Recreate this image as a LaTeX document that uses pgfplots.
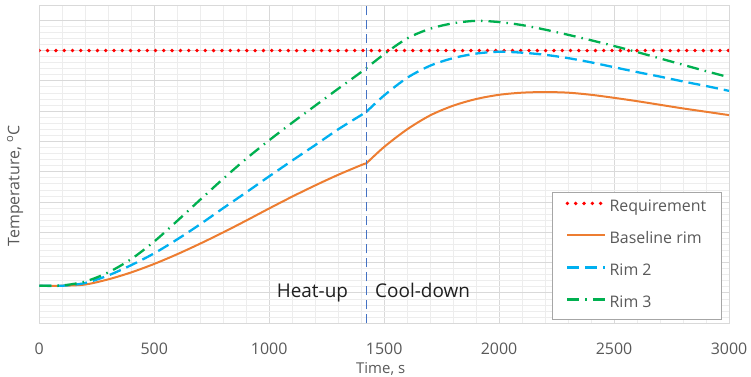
\documentclass[border=0pt]{standalone}
\usepackage{pgfplots}
\pgfplotsset{compat=1.18}
\usepackage{pgfplotstable}
\usepackage{fontspec}
\setmainfont{Open Sans}
\definecolor{gridmaj}{HTML}{D9D9D9}
\definecolor{gridmin}{HTML}{EDEDED}
\definecolor{txtgray}{HTML}{595959}
\definecolor{legbord}{HTML}{A6A6A6}
\definecolor{xlorange}{HTML}{ED7D31}
\definecolor{xlblue}{HTML}{00B0F0}
\definecolor{xlgreen}{HTML}{00B050}
\definecolor{xlline}{HTML}{4472C4}

\pgfplotstableread{
x y
0 1.24
100 1.24
200 1.28
300 1.45
400 1.68
500 1.96
600 2.28
700 2.63
800 3.00
900 3.39
1000 3.79
1100 4.18
1200 4.55
1300 4.90
1400 5.22
1423 5.28
1500 5.82
1600 6.40
1700 6.86
1800 7.18
1900 7.40
2000 7.54
2100 7.61
2200 7.63
2300 7.61
2400 7.54
2500 7.44
2600 7.33
2700 7.21
2800 7.09
2900 6.98
3000 6.87
}\tblbase

\pgfplotstableread{
x y
0 1.24
100 1.24
200 1.33
300 1.58
400 1.92
500 2.31
600 2.77
700 3.27
800 3.80
900 4.32
1000 4.85
1100 5.37
1200 5.88
1300 6.40
1400 6.87
1423 6.98
1500 7.52
1600 8.10
1700 8.50
1800 8.75
1900 8.90
2000 8.96
2100 8.93
2200 8.86
2300 8.75
2400 8.61
2500 8.45
2600 8.29
2700 8.14
2800 7.98
2900 7.83
3000 7.67
}\tblrimtwo

\pgfplotstableread{
x y
0 1.24
100 1.25
200 1.38
300 1.68
400 2.12
500 2.70
600 3.38
700 4.08
800 4.77
900 5.43
1000 6.04
1100 6.62
1200 7.18
1300 7.74
1400 8.29
1500 8.88
1600 9.40
1700 9.72
1800 9.90
1900 9.98
2000 9.94
2100 9.84
2200 9.69
2300 9.52
2400 9.34
2500 9.15
2600 8.95
2700 8.74
2800 8.53
2900 8.32
3000 8.12
}\tblrimthree

\begin{document}
\begin{tikzpicture}
\useasboundingbox (-39.3bp,-53.7bp) rectangle (711.7bp,323.3bp);
\begin{axis}[
  at={(0,0)}, anchor=south west,
  scale only axis, width=689.7bp, height=317.3bp,
  xmin=0, xmax=3000, ymin=0, ymax=10.47,
  xtick={0,500,...,3000}, minor x tick num=4,
  ytick={0,1,...,10}, minor y tick num=4, yticklabels={},
  grid=both,
  major grid style={gridmaj, line width=1bp},
  minor grid style={gridmin, line width=0.9bp},
  axis line style={gridmaj, line width=1bp},
  major tick length=0pt, minor tick length=0pt,
  tick label style={font=\fontsize{16}{16}\selectfont, text=txtgray},
  /pgf/number format/assume math mode=true,
  /pgf/number format/1000 sep={},
  xticklabel style={anchor=center, yshift=-25.7bp, text height=11.4bp, text depth=0bp},
  xlabel={Time, s},
  xlabel style={at={(axis description cs:0.495,0)}, anchor=center, yshift=-45.7bp, font=\fontsize{15}{15}\selectfont, text=txtgray},
  ylabel={Temperature, $^{\mathrm{o}}$C},
  ylabel style={at={(axis description cs:-0.0352,0.433)}, anchor=center, font=\fontsize{16}{16}\selectfont, text=txtgray},
  legend style={at={(rel axis cs:0.9899,0.4138)}, anchor=north east, draw=legbord, fill=white, line width=0.8bp,
    font=\fontsize{16}{16}\selectfont, text=txtgray, inner xsep=13bp, inner ysep=7.5bp, row sep=16bp,
    nodes={inner xsep=2.3bp, inner ysep=0bp, text height=12bp, text depth=4bp}},
  legend cell align=left,
  legend image code/.code={\draw[#1] (0bp,4.5bp) -- (38bp,4.5bp);},
]
\addplot[red, line width=3.8bp, line cap=round, dash pattern=on 0bp off 8.3bp] coordinates {(0,9) (3000,9)};
\addlegendentry{Requirement}
\addplot[xlorange, line width=2bp, smooth, tension=0.5, restrict x to domain=0:1423] table {\tblbase};
\addlegendentry{Baseline rim}
\addplot[xlblue, line width=2.3bp, smooth, tension=0.5, dash pattern=on 12bp off 6bp, restrict x to domain=0:1423] table {\tblrimtwo};
\addlegendentry{Rim 2}
\addplot[xlgreen, line width=2.3bp, smooth, tension=0.5, dash pattern=on 12bp off 6bp on 1.5bp off 6bp] table {\tblrimthree};
\addlegendentry{Rim 3}
\addplot[xlorange, line width=2bp, smooth, tension=0.5, restrict x to domain=1423:3000, forget plot] table {\tblbase};
\addplot[xlblue, line width=2.3bp, smooth, tension=0.5, dash pattern=on 12bp off 6bp, restrict x to domain=1423:3000, forget plot] table {\tblrimtwo};
\addplot[xlline, line width=1.5bp, dash pattern=on 9bp off 5bp, forget plot] coordinates {(1423,0) (1423,10.47)};
\node[anchor=base, font=\fontsize{19}{19}\selectfont, text=black!88] at (axis cs:1188,0.84) {Heat-up};
\node[anchor=base, font=\fontsize{19}{19}\selectfont, text=black!88] at (axis cs:1667,0.84) {Cool-down};
\end{axis}
\end{tikzpicture}
\end{document}
